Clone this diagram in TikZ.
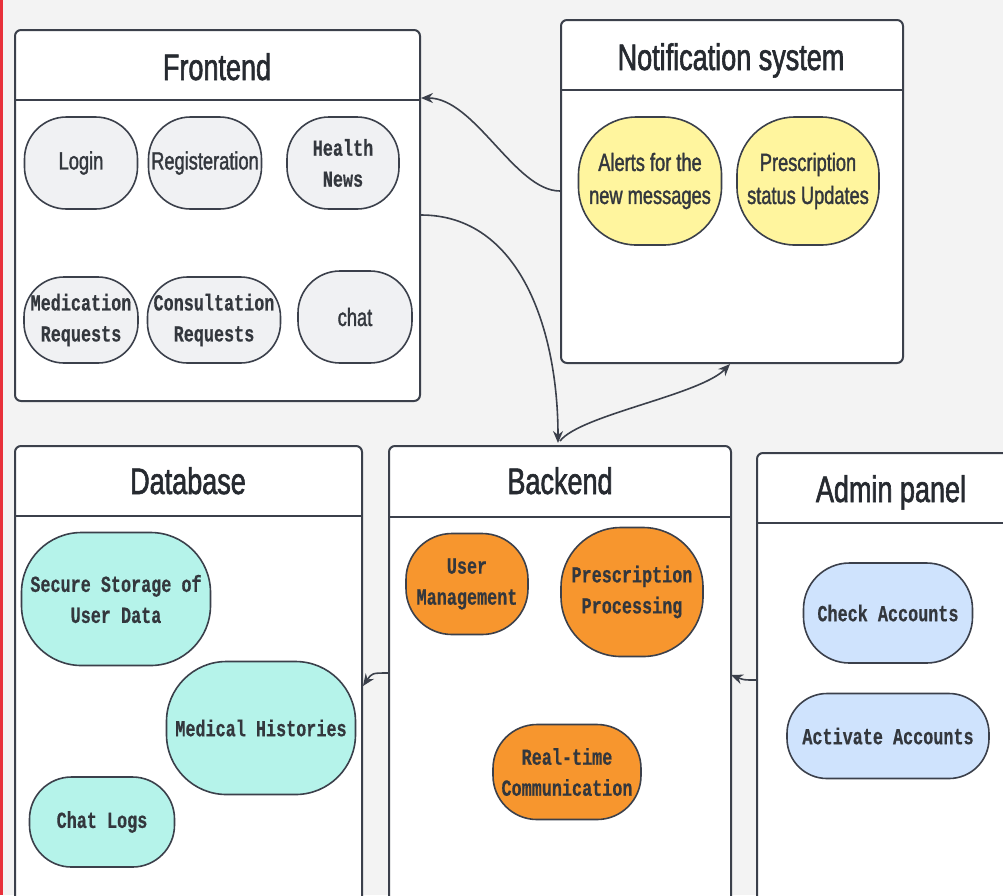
\documentclass[tikz,border=0pt]{standalone}
\usepackage{fontspec}
\usetikzlibrary{arrows.meta}
\newfontfamily\ttlfont[FakeStretch=0.73,FakeBold=1.6]{Liberation Sans}
\newfontfamily\smallfont[FakeStretch=0.73,FakeBold=1.4]{Liberation Sans}
\newfontfamily\lblfont[FakeStretch=0.73,FakeBold=0.5,UprightFont={* Bold}]{Liberation Mono}
\definecolor{bg}{HTML}{F3F3F3}
\definecolor{edge}{HTML}{3B404B}
\definecolor{grayfill}{HTML}{F0F1F3}
\definecolor{yellowfill}{HTML}{FFF59E}
\definecolor{cyanfill}{HTML}{B5F3EA}
\definecolor{orangefill}{HTML}{F7962E}
\definecolor{bluefill}{HTML}{CFE3FD}
\definecolor{txt}{HTML}{262A30}
\definecolor{lbltxt}{HTML}{33373D}
\definecolor{redline}{HTML}{E8303A}
\begin{document}
\begin{tikzpicture}[x=1pt,y=-1pt,
 container/.style={draw=edge, fill=white, line width=2pt, rounded corners=6pt, anchor=north west, inner sep=0pt},
 hdr/.style={draw=edge, line width=2pt},
 title/.style={text=txt, font=\ttlfont\fontsize{37}{40}\selectfont, inner sep=0pt, anchor=base},
 pill/.style={draw=edge, line width=1.6pt, inner sep=0pt, align=center, text=lbltxt},
 sanslbl/.style={font=\smallfont\fontsize{25}{33}\selectfont},
 monolbl/.style={font=\lblfont\fontsize{23}{31}\selectfont},
 link/.style={draw=edge, line width=1.6pt, -{Stealth[length=12pt,width=10pt]}}
]
\useasboundingbox (0,0) rectangle (1003,895);
\fill[bg] (0,0) rectangle (1003,895);
\begin{scope}
\clip (0,0) rectangle (1003,895);

% Frontend
\node[container, minimum width=405pt, minimum height=371pt] (front) at (14,29) {};
\draw[hdr] (14,100) -- (419,100);
\node[title] (frontT) at (217,80) {Frontend};
\node[pill, sanslbl, fill=grayfill, minimum width=113pt, minimum height=92pt, rounded corners=42pt] (login) at (81,163) {Login};
\node[pill, sanslbl, fill=grayfill, minimum width=113pt, minimum height=92pt, rounded corners=42pt] (reg) at (205,163) {Registeration};
\node[pill, monolbl, fill=grayfill, minimum width=112pt, minimum height=92pt, rounded corners=42pt] (news) at (343,163) {Health\\News};
\node[pill, monolbl, fill=grayfill, minimum width=114pt, minimum height=86pt, rounded corners=40pt] (med) at (81,320) {Medication\\Requests};
\node[pill, monolbl, fill=grayfill, minimum width=133pt, minimum height=86pt, rounded corners=40pt] (cons) at (214,320) {Consultation\\Requests};
\node[pill, sanslbl, fill=grayfill, minimum width=114pt, minimum height=92pt, rounded corners=42pt] (chat) at (355,317) {chat};

% Notification system
\node[container, minimum width=342pt, minimum height=343pt] (notif) at (560,19) {};
\draw[hdr] (560,90) -- (902,90);
\node[title] (notifT) at (731,70) {Notification system};
\node[pill, sanslbl, fill=yellowfill, minimum width=143pt, minimum height=128pt, rounded corners=58pt] (alerts) at (650,181) {Alerts for the\\new messages};
\node[pill, sanslbl, fill=yellowfill, minimum width=142pt, minimum height=128pt, rounded corners=58pt] (pstat) at (808,181) {Prescription\\status Updates};

% Database
\node[container, minimum width=347pt, minimum height=470pt] (db) at (14,445) {};
\draw[hdr] (14,516) -- (361,516);
\node[title] (dbT) at (188,494) {Database};
\node[pill, monolbl, fill=cyanfill, minimum width=189pt, minimum height=133pt, rounded corners=60pt] (secure) at (116,599) {Secure Storage of\\User Data};
\node[pill, monolbl, fill=cyanfill, minimum width=189pt, minimum height=133pt, rounded corners=60pt] (hist) at (261,728) {Medical Histories};
\node[pill, monolbl, fill=cyanfill, minimum width=145pt, minimum height=90pt, rounded corners=42pt] (logs) at (102,822) {Chat Logs};

% Backend
\node[container, minimum width=342pt, minimum height=470pt] (back) at (388,445) {};
\draw[hdr] (388,517) -- (730,517);
\node[title] (backT) at (560,494) {Backend};
\node[pill, monolbl, fill=orangefill, minimum width=122pt, minimum height=101pt, rounded corners=46pt] (user) at (467,584) {User\\Management};
\node[pill, monolbl, fill=orangefill, minimum width=142pt, minimum height=129pt, rounded corners=60pt] (presc) at (632,592) {Prescription\\Processing};
\node[pill, monolbl, fill=orangefill, minimum width=148pt, minimum height=95pt, rounded corners=44pt] (rt) at (567,772) {Real-time\\Communication};

% Admin panel
\node[container, minimum width=280pt, minimum height=470pt] (admin) at (756,452) {};
\draw[hdr] (756,523) -- (1010,523);
\node[title] (adminT) at (891,502) {Admin panel};
\node[pill, monolbl, fill=bluefill, minimum width=169pt, minimum height=100pt, rounded corners=46pt] (check) at (888,613) {Check Accounts};
\node[pill, monolbl, fill=bluefill, minimum width=202pt, minimum height=85pt, rounded corners=40pt] (act) at (888,736) {Activate Accounts};

% connector end points
\coordinate (nOut) at (560,191);
\coordinate (fIn) at (421,98);
\coordinate (fOut) at (421,215);
\coordinate (bTop) at (558,443);
\coordinate (bStart) at (560,441);
\coordinate (nIn) at (730,364);
\coordinate (bLeft) at (388,673);
\coordinate (dIn) at (363,686);
\coordinate (aLeft) at (756,680);
\coordinate (bRight) at (731,675);

\draw[link] (nOut) .. controls (515,191) and (475,98) .. (fIn);
\draw[link] (fOut) .. controls (520,215) and (558,330) .. (bTop);
\draw[link] (bStart) .. controls (580,415) and (700,395) .. (nIn);
\draw[link] (bLeft) .. controls (372,673) .. (dIn);
\draw[link] (aLeft) .. controls (744,680) .. (bRight);
\end{scope}
\fill[redline] (0,0) rectangle (2.5,895);
\end{tikzpicture}
\end{document}
